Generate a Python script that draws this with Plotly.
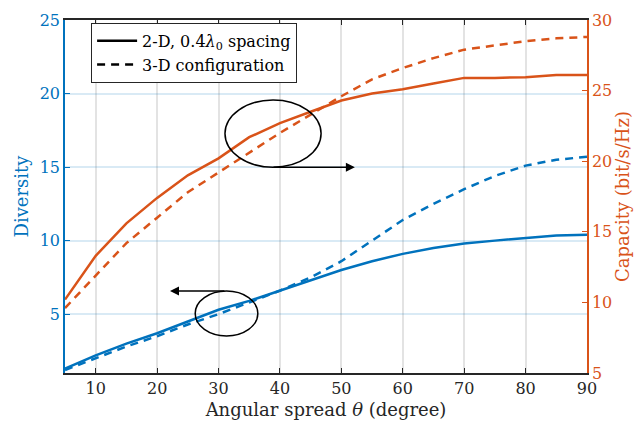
import plotly.graph_objects as go

angle = [5, 10, 15, 20, 25, 30, 35, 40, 45, 50, 55, 60, 65, 70, 75, 80, 85, 90]
diversity_2d = [1.3, 2.2, 3.0, 3.7, 4.5, 5.3, 5.9, 6.6, 7.3, 8.0, 8.6, 9.1, 9.5, 9.8, 10.0, 10.2, 10.35, 10.4]
diversity_3d = [1.2, 2.0, 2.8, 3.5, 4.3, 5.0, 5.8, 6.6, 7.5, 8.6, 10.0, 11.4, 12.5, 13.5, 14.4, 15.1, 15.5, 15.7]
capacity_2d = [10.2, 13.3, 15.6, 17.4, 19.0, 20.2, 21.7, 22.7, 23.5, 24.3, 24.8, 25.1, 25.5, 25.9, 25.9, 25.95, 26.1, 26.1]
capacity_3d = [9.6, 11.9, 14.2, 16.0, 17.8, 19.2, 20.6, 22.0, 23.3, 24.6, 25.8, 26.6, 27.3, 27.9, 28.2, 28.5, 28.7, 28.8]

x_ticks = [10, 20, 30, 40, 50, 60, 70, 80, 90]
left_ticks = [5, 10, 15, 20, 25]
right_ticks = [5, 10, 15, 20, 25, 30]
legend_labels = ["2-D, 0.4<i>λ</i><sub>0</sub> spacing", "3-D configuration"]

BLUE = "#0072BD"
ORANGE = "#D95319"
FONT = "DejaVu Serif"
DARK = "#262626"

fig = go.Figure()
fig.add_trace(go.Scatter(x=angle, y=diversity_2d, mode="lines", line=dict(color=BLUE, width=2.5), showlegend=False, yaxis="y"))
fig.add_trace(go.Scatter(x=angle, y=diversity_3d, mode="lines", line=dict(color=BLUE, width=2.5, dash="8px,6px"), showlegend=False, yaxis="y"))
fig.add_trace(go.Scatter(x=angle, y=capacity_2d, mode="lines", line=dict(color=ORANGE, width=2.5), showlegend=False, yaxis="y2"))
fig.add_trace(go.Scatter(x=angle, y=capacity_3d, mode="lines", line=dict(color=ORANGE, width=2.5, dash="8px,6px"), showlegend=False, yaxis="y2"))
# legend entries (black samples)
fig.add_trace(go.Scatter(x=[None], y=[None], mode="lines", line=dict(color="black", width=2.5), name=legend_labels[0]))
fig.add_trace(go.Scatter(x=[None], y=[None], mode="lines", line=dict(color="black", width=2.5, dash="8px,6px"), name=legend_labels[1]))

# ellipses and arrows (annotation marks)
fig.add_shape(type="circle", xref="x", yref="y", x0=31.05, x1=46.7, y0=14.99, y1=19.56, line=dict(color="black", width=1.5))
fig.add_shape(type="circle", xref="x", yref="y", x0=26.2, x1=36.4, y0=3.52, y1=6.57, line=dict(color="black", width=1.5))
fig.add_annotation(x=52.2, y=14.99, ax=38.7, ay=14.99, xref="x", yref="y", axref="x", ayref="y",
                   showarrow=True, arrowhead=2, arrowsize=1.2, arrowwidth=1.5, arrowcolor="black", text="")
fig.add_annotation(x=22.1, y=6.57, ax=31.2, ay=6.57, xref="x", yref="y", axref="x", ayref="y",
                   showarrow=True, arrowhead=2, arrowsize=1.2, arrowwidth=1.5, arrowcolor="black", text="")

fig.update_layout(
    width=644, height=438,
    margin=dict(l=65, r=57, t=11, b=65),
    paper_bgcolor="white", plot_bgcolor="white",
    font=dict(family=FONT, size=16, color=DARK),
    xaxis=dict(range=[5, 90], tickvals=x_ticks, ticks="inside", ticklen=5, tickcolor=DARK,
               showline=True, linecolor=DARK, linewidth=1.5, mirror="ticks",
               showgrid=True, gridcolor="#e3e3e3", gridwidth=1.5, zeroline=False,
               title=dict(text="Angular spread <i>θ</i> (degree)", font=dict(family=FONT, size=18, color=DARK), standoff=6),
               tickfont=dict(family=FONT, size=16, color=DARK)),
    yaxis=dict(range=[1, 25], tickvals=left_ticks, ticks="inside", ticklen=5, tickcolor=BLUE,
               showline=True, linecolor=BLUE, linewidth=1.5,
               showgrid=True, gridcolor="rgba(0,114,189,0.15)", gridwidth=1.5, zeroline=False,
               title=dict(text="Diversity", font=dict(family=FONT, size=18, color=BLUE), standoff=6),
               tickfont=dict(family=FONT, size=16, color=BLUE)),
    yaxis2=dict(range=[5, 30], tickvals=right_ticks, ticks="inside", ticklen=5, tickcolor=ORANGE,
                overlaying="y", side="right", anchor="x",
                showline=True, linecolor=ORANGE, linewidth=1.5,
                showgrid=False, zeroline=False,
                title=dict(text="Capacity (bit/s/Hz)", font=dict(family=FONT, size=18, color=ORANGE), standoff=4),
                tickfont=dict(family=FONT, size=16, color=ORANGE)),
    legend=dict(x=0.05, y=0.992, xanchor="left", yanchor="top", bgcolor="white",
                bordercolor=DARK, borderwidth=1, font=dict(family=FONT, size=16, color="black"),
                tracegroupgap=0, itemwidth=40),
    showlegend=True,
)

fig.write_html("out.html")
